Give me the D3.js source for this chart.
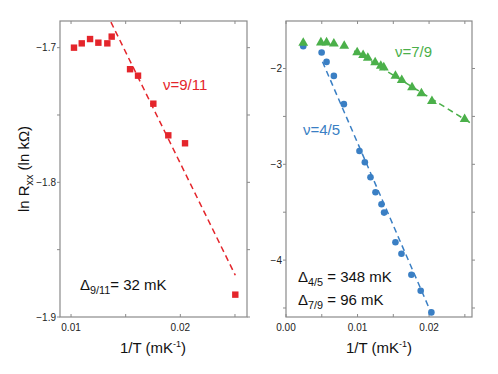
<!DOCTYPE html>
<html><head><meta charset="utf-8">
<script src="https://cdn.jsdelivr.net/npm/d3@7"></script>
<style>body{margin:0;background:#fff}svg{display:block}text{font-family:"Liberation Sans",Arial,Helvetica,sans-serif}</style>
</head><body><svg id="c" width="498" height="374"></svg>
<script>
// ---- data ----
const nu911X = [0.01027,0.01098,0.01174,0.0125,0.01332,0.01372,0.0154,0.01613,0.01753,0.0189,0.02043,0.02503];
const nu911Y = [-1.700,-1.6968,-1.6936,-1.6963,-1.6968,-1.6918,-1.716,-1.7208,-1.7416,-1.7651,-1.771,-1.8834];
const fit911X = [0.01365,0.02503];
const fit911Y = [-1.681,-1.869];

const nu45X = [0.00241,0.00498,0.00567,0.00669,0.00809,0.01027,0.01102,0.01181,0.01251,0.01335,0.01371,0.0153,0.01614,0.01753,0.01883,0.02032];
const nu45Y = [-1.768,-1.833,-1.931,-2.077,-2.372,-2.861,-2.979,-3.135,-3.292,-3.417,-3.504,-3.813,-3.934,-4.153,-4.320,-4.546];
const fit45X = [0.0051,0.0204];
const fit45Y = [-1.93,-4.57];

const nu79X = [0.00241,0.00488,0.00567,0.00669,0.00814,0.00995,0.01078,0.01144,0.01246,0.01325,0.01367,0.0153,0.01618,0.01762,0.01893,0.0204,0.02497];
const nu79Y = [-1.733,-1.729,-1.729,-1.740,-1.765,-1.833,-1.861,-1.890,-1.937,-1.972,-1.990,-2.077,-2.122,-2.198,-2.260,-2.340,-2.528];
const fit79X = [0.00953,0.0259];
const fit79Y = [-1.817,-2.573];

const leftXTicks = [0.01,0.02], leftXMinor = [0.015,0.025];
const leftYTicks = [-1.7,-1.8,-1.9], leftYMinor = [-1.75,-1.85];
const rightXTicks = [0,0.01,0.02], rightXMinor = [0.005,0.015,0.025];
const rightYTicks = [-2,-3,-4], rightYMinor = [-2.5,-3.5,-4.5];

const RED="#e4252b", BLUE="#3a7fc4", GREEN="#4bb04a", FRAME="#8a8a8a";
const svg = d3.select("#c");
const plotTop=21, plotBottom=317;

function frame(x, y, xt, xm, yt, ym, xfmt, yfmt) {
  const g = svg.append("g");
  const [x0,x1] = x.range(), [y0,y1] = y.range();
  g.append("rect").attr("x",x0).attr("y",y1).attr("width",x1-x0).attr("height",y0-y1)
    .attr("fill","none").attr("stroke",FRAME).attr("stroke-width",1.2);
  const all = xt.concat(xm), ally = yt.concat(ym);
  all.forEach(v=>{
    g.append("line").attr("x1",x(v)).attr("x2",x(v)).attr("y1",y0).attr("y2",y0-3).attr("stroke",FRAME);
    g.append("line").attr("x1",x(v)).attr("x2",x(v)).attr("y1",y1).attr("y2",y1+3).attr("stroke",FRAME);
  });
  ally.forEach(v=>{
    g.append("line").attr("x1",x0).attr("x2",x0-3).attr("y1",y(v)).attr("y2",y(v)).attr("stroke",FRAME);
    g.append("line").attr("x1",x1).attr("x2",x1+3).attr("y1",y(v)).attr("y2",y(v)).attr("stroke",FRAME);
  });
  xt.forEach(v=>g.append("text").attr("x",x(v)).attr("y",y0+14).attr("text-anchor","middle")
    .attr("font-size",10).attr("fill","#222").text(xfmt(v)));
  yt.forEach(v=>g.append("text").attr("x",x0-4).attr("y",y(v)+3.5).attr("text-anchor","end")
    .attr("font-size",10).attr("fill","#222").text(yfmt(v)));
}
const minus = s => s.replace("-","\u2212");

// Left panel
const xL = d3.scaleLinear().domain([0.00899,0.0261]).range([60,247]);
const yL = d3.scaleLinear().domain([-1.9,-1.6802]).range([plotBottom,plotTop]);
frame(xL,yL,leftXTicks,leftXMinor,leftYTicks,leftYMinor,d3.format(".2f"),v=>minus(d3.format(".1f")(v)));

// Right panel
const xR = d3.scaleLinear().domain([0,0.026]).range([286,472]);
const yR = d3.scaleLinear().domain([-4.594,-1.504]).range([plotBottom,plotTop]);
frame(xR,yR,rightXTicks,rightXMinor,rightYTicks,rightYMinor,d3.format(".2f"),v=>minus(d3.format("d")(v)));

const line = (x,y)=>d3.line().x(d=>x(d[0])).y(d=>y(d[1]));
function fit(X,Y,x,y,col){
  svg.append("path").datum(d3.zip(X,Y)).attr("d",line(x,y)).attr("fill","none")
    .attr("stroke",col).attr("stroke-width",1.5).attr("stroke-dasharray","6,4");
}
fit(fit911X,fit911Y,xL,yL,RED);
fit(fit45X,fit45Y,xR,yR,BLUE);
fit(fit79X,fit79Y,xR,yR,GREEN);

svg.append("g").selectAll("rect").data(d3.zip(nu911X,nu911Y)).join("rect")
  .attr("x",d=>xL(d[0])-3.2).attr("y",d=>yL(d[1])-3.2).attr("width",6.4).attr("height",6.4).attr("fill",RED);
svg.append("g").selectAll("circle").data(d3.zip(nu45X,nu45Y)).join("circle")
  .attr("cx",d=>xR(d[0])).attr("cy",d=>yR(d[1])).attr("r",3.3).attr("fill",BLUE);
const tri = d3.symbol().type(d3.symbolTriangle).size(42);
svg.append("g").selectAll("path").data(d3.zip(nu79X,nu79Y)).join("path")
  .attr("transform",d=>`translate(${xR(d[0])},${yR(d[1])})`).attr("d",tri).attr("fill",GREEN);

// labels
function lbl(x,y,col,parts,size){
  const fs = size||15;
  const t = svg.append("text").attr("x",x).attr("y",y).attr("font-size",fs).attr("fill",col);
  parts.forEach(p=>{
    const s = t.append("tspan").text(p.t);
    if(p.sub){ s.attr("font-size",fs*0.72).attr("dy",4); }
    if(p.sup){ s.attr("font-size",fs*0.6).attr("dy",-6); }
    if(p.back){ s.attr("dy",p.back); }
  });
  return t;
}
lbl(163,90,RED,[{t:"\u03bd=9/11"}]);
lbl(395,57,GREEN,[{t:"\u03bd=7/9"}]);
lbl(303,135,BLUE,[{t:"\u03bd=4/5"}]);
lbl(80,290,"#111",[{t:"\u0394"},{t:"9/11",sub:1},{t:"= 32 mK",back:-4}]);
lbl(298,282,"#111",[{t:"\u0394"},{t:"4/5",sub:1},{t:" = 348 mK",back:-4}]);
lbl(298,305,"#111",[{t:"\u0394"},{t:"7/9",sub:1},{t:" = 96 mK",back:-4}]);

lbl(153,353,"#111",[{t:"1/T (mK"},{t:"-1",sup:1},{t:")",back:6}]).attr("text-anchor","middle");
lbl(379,353,"#111",[{t:"1/T (mK"},{t:"-1",sup:1},{t:")",back:6}]).attr("text-anchor","middle");
lbl(0,0,"#111",[{t:"ln R"},{t:"xx",sub:1},{t:" (ln k\u03a9)",back:-4}])
  .attr("text-anchor","middle").attr("transform","translate(29,169) rotate(-90)");
</script></body></html>
